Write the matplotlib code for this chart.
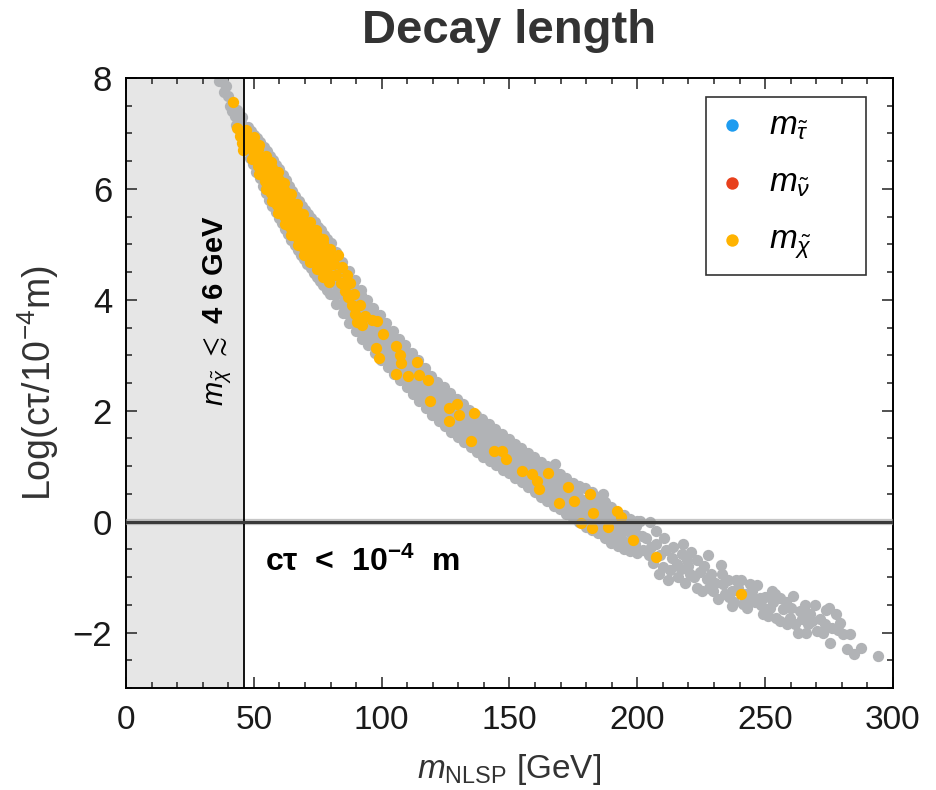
import numpy as np
import matplotlib.pyplot as plt
from matplotlib.ticker import MultipleLocator

plt.rcParams['font.family'] = ['Liberation Sans', 'DejaVu Sans']
plt.rcParams['mathtext.fontset'] = 'custom'
plt.rcParams['mathtext.rm'] = 'Liberation Sans'
plt.rcParams['mathtext.it'] = 'Liberation Sans:italic'
plt.rcParams['mathtext.bf'] = 'Liberation Sans:bold'

# (m_NLSP [GeV], Log(c tau / 1e-4 m))
gray_excluded = [(36.5, 7.95), (38.0, 7.92), (39.0, 7.85), (38.5, 7.75), (40.0, 7.68), (40.5, 7.5),
                 (41.5, 7.4), (42.5, 7.32), (43.5, 7.42), (44.0, 7.25), (45.0, 7.18), (45.5, 7.3),
                 (44.5, 7.05), (43.0, 7.15)]

# rims of the dense region (mostly hidden by the orange points)
gray_rim = [(47.2, 6.71), (47.6, 7.11), (49.8, 6.44), (50.1, 6.98), (52.3, 6.19), (52.6, 6.84),
            (54.7, 5.92), (55.1, 6.69), (57.2, 5.7), (57.5, 6.52), (59.7, 5.48), (60.0, 6.35),
            (62.2, 5.28), (62.5, 6.16), (64.7, 5.08), (65.0, 5.97), (67.2, 4.9), (67.5, 5.79),
            (69.7, 4.73), (70.0, 5.62), (72.2, 4.57), (72.5, 5.47), (74.7, 4.42), (75.0, 5.32),
            (77.2, 4.26), (77.5, 5.17), (79.7, 4.1), (80.0, 5.02),
            (48.5, 6.55), (51.0, 6.3), (53.5, 6.05), (56.0, 5.8), (58.5, 5.58), (61.0, 5.38),
            (63.5, 5.18), (66.0, 4.99), (68.5, 4.81), (71.0, 4.65), (73.5, 4.49), (76.0, 4.34),
            (78.5, 4.18), (48.8, 7.04), (51.3, 6.91), (53.8, 6.76), (56.3, 6.6), (58.8, 6.43),
            (61.3, 6.25), (63.8, 6.06), (66.3, 5.88), (68.8, 5.7), (71.3, 5.55), (73.8, 5.4),
            (76.3, 5.25), (78.8, 5.1)]

gray_band = [
    (82.3, 3.93), (81.8, 4.09), (82.6, 4.25), (82.0, 4.41), (82.4, 4.57), (81.7, 4.72), (82.2, 4.86),
    (84.8, 3.76), (84.2, 3.92), (84.9, 4.08), (84.4, 4.24), (84.7, 4.4), (84.1, 4.55), (84.6, 4.68),
    (87.2, 3.59), (86.7, 3.75), (87.4, 3.91), (86.9, 4.07), (87.3, 4.23), (86.8, 4.38), (87.1, 4.52),
    (89.8, 3.43), (89.2, 3.59), (89.9, 3.75), (89.4, 3.91), (89.7, 4.06), (89.1, 4.21), (89.6, 4.35),
    (92.3, 3.3), (91.7, 3.46), (92.4, 3.62), (91.9, 3.78), (92.2, 3.94), (91.8, 4.08), (92.1, 4.18),
    (94.8, 3.18), (94.2, 3.34), (94.9, 3.5), (94.4, 3.66), (94.7, 3.82), (94.3, 4.0),
    (97.3, 3.04), (96.7, 3.2), (97.4, 3.36), (96.9, 3.52), (97.2, 3.68), (96.8, 3.86),
    (99.8, 2.91), (99.2, 3.07), (99.9, 3.23), (99.4, 3.39), (99.7, 3.55), (99.3, 3.72),
    (102.3, 2.79), (101.7, 2.95), (102.4, 3.11), (101.9, 3.27), (102.2, 3.43), (101.8, 3.58),
    (104.8, 2.67), (104.2, 2.83), (104.9, 2.99), (104.4, 3.15), (104.7, 3.3), (104.3, 3.43),
    (107.3, 2.55), (106.7, 2.71), (107.4, 2.87), (106.9, 3.03), (107.2, 3.18), (106.8, 3.3),
    (109.8, 2.43), (109.2, 2.59), (109.9, 2.75), (109.4, 2.91), (109.7, 3.06), (109.3, 3.18),
    (112.3, 2.3), (111.7, 2.46), (112.4, 2.62), (111.9, 2.78), (112.2, 2.93), (111.8, 3.04),
    (114.8, 2.18), (114.2, 2.34), (114.9, 2.5), (114.4, 2.66), (114.7, 2.81), (114.3, 2.91),
    (117.3, 2.05), (116.7, 2.21), (117.4, 2.37), (116.9, 2.53), (117.2, 2.67), (116.8, 2.77),
    (119.8, 1.93), (119.2, 2.09), (119.9, 2.25), (119.4, 2.41), (119.7, 2.55), (119.3, 2.63),
    (122.3, 1.82), (121.7, 1.98), (122.4, 2.14), (121.9, 2.3), (122.2, 2.44), (121.8, 2.52),
    (124.8, 1.72), (124.2, 1.88), (124.9, 2.04), (124.4, 2.2), (124.7, 2.34), (124.3, 2.42),
    (127.3, 1.62), (126.7, 1.78), (127.4, 1.94), (126.9, 2.1), (127.2, 2.24), (126.8, 2.32),
    (129.8, 1.52), (129.2, 1.68), (129.9, 1.84), (129.4, 2.0), (129.7, 2.14), (129.3, 2.22),
    (132.3, 1.43), (131.7, 1.59), (132.4, 1.75), (131.9, 1.91), (132.2, 2.05), (131.8, 2.12),
    (134.8, 1.34), (134.2, 1.5), (134.9, 1.66), (134.4, 1.82), (134.7, 1.95), (134.3, 2.02),
    (137.3, 1.25), (136.7, 1.41), (137.4, 1.57), (136.9, 1.73), (137.2, 1.86), (136.8, 1.93),
    (139.8, 1.17), (139.2, 1.33), (139.9, 1.49), (139.4, 1.65), (139.7, 1.78), (139.3, 1.85),
    (142.3, 1.09), (141.7, 1.25), (142.4, 1.41), (141.9, 1.57), (142.2, 1.7), (141.8, 1.76),
    (144.8, 1.02), (144.2, 1.18), (144.9, 1.34), (144.4, 1.5), (144.7, 1.62), (144.3, 1.67),
    (147.3, 0.94), (146.7, 1.1), (147.4, 1.26), (146.9, 1.42), (147.2, 1.58),
    (149.8, 0.87), (149.2, 1.03), (149.9, 1.19), (149.4, 1.35), (149.7, 1.49),
    (152.3, 0.79), (151.7, 0.95), (152.4, 1.11), (151.9, 1.27), (152.2, 1.4),
    (154.8, 0.72), (154.2, 0.88), (154.9, 1.04), (154.4, 1.2), (154.7, 1.32),
    (157.3, 0.63), (156.7, 0.79), (157.4, 0.95), (156.9, 1.11), (157.2, 1.23),
    (159.8, 0.54), (159.2, 0.7), (159.9, 0.86), (159.4, 1.02), (159.7, 1.16),
    (162.3, 0.45), (161.7, 0.61), (162.4, 0.77), (161.9, 0.93), (162.2, 1.08),
    (164.8, 0.37), (164.2, 0.53), (164.9, 0.69), (164.4, 0.85), (164.7, 1.0),
    (167.3, 0.29), (166.7, 0.45), (167.4, 0.61), (166.9, 0.77), (167.2, 0.93), (167.8, 1.04),
    (169.8, 0.22), (169.2, 0.38), (169.9, 0.54), (169.4, 0.7), (169.7, 0.85),
    (172.3, 0.14), (171.7, 0.3), (172.4, 0.46), (171.9, 0.62), (172.2, 0.78),
    (174.8, 0.06), (174.2, 0.22), (174.9, 0.38), (174.4, 0.54), (174.7, 0.7),
    (177.3, -0.01), (176.7, 0.15), (177.4, 0.31), (176.9, 0.47), (177.2, 0.65),
    (179.8, -0.09), (179.2, 0.07), (179.9, 0.23), (179.4, 0.39), (179.7, 0.6),
    (182.3, -0.15), (181.7, 0.01), (182.4, 0.17), (181.9, 0.33), (182.2, 0.53),
    (184.8, -0.21), (184.2, -0.05), (184.9, 0.11), (184.4, 0.27), (184.7, 0.45), (186.7, 0.5),
    (187.3, -0.29), (186.7, -0.13), (187.4, 0.03), (186.9, 0.19), (187.2, 0.36),
    (189.8, -0.38), (189.2, -0.22), (189.9, -0.06), (189.4, 0.1), (189.7, 0.26),
    (192.3, -0.44), (191.7, -0.28), (192.4, -0.12), (191.9, 0.04), (192.2, 0.18),
    (194.8, -0.49), (194.2, -0.33), (194.9, -0.17), (194.4, -0.01), (194.7, 0.12),
    (197.3, -0.53), (196.7, -0.37), (197.4, -0.21), (196.9, -0.05), (197.2, 0.05),
    (199.8, -0.56), (199.2, -0.4), (199.9, -0.24), (199.4, -0.08), (199.7, 0.01)]

gray_tail = [
    (202.3, -0.52), (201.0, 0.02), (205.0, -0.01), (207.5, -0.16), (207.5, -0.4), (211.4, -0.52),
    (210.1, -0.82), (212.7, -0.88), (215.4, -0.76), (217.3, -0.58), (218.0, -0.4), (220.6, -0.94),
    (223.2, -0.7), (223.2, -1.19), (227.1, -1.03), (229.7, -1.25), (232.7, -0.78), (233.6, -1.12),
    (236.9, -1.52), (238.8, -1.06), (241.4, -1.49), (244.0, -1.12), (247.9, -1.37), (249.2, -1.67),
    (251.9, -1.55), (254.4, -1.73), (255.8, -1.37), (257.0, -1.58), (259.7, -1.73), (261.0, -1.34),
    (262.9, -2.0), (263.6, -1.61), (266.8, -1.85), (267.5, -1.67), (270.1, -1.97), (272.7, -2.0),
    (275.0, -1.55), (275.3, -2.18), (276.0, -1.91), (277.9, -1.67), (279.2, -1.82), (280.5, -2.02),
    (282.2, -2.29), (283.1, -2.02), (284.7, -2.38), (287.7, -2.27), (294.2, -2.42),
    (203.5, -0.3), (204.5, -0.6), (206.0, -0.75), (208.5, -0.95), (209.0, -0.6), (210.5, -0.3),
    (212.0, -1.05), (213.5, -0.65), (214.0, -0.45), (216.0, -1.0), (217.0, -0.85), (218.5, -1.1),
    (219.5, -0.7), (221.0, -0.55), (222.0, -1.0), (224.5, -0.9), (225.5, -1.25), (226.0, -0.8),
    (228.0, -1.2), (229.0, -0.95), (230.5, -1.1), (231.5, -1.4), (233.0, -0.95), (234.5, -1.3),
    (235.5, -1.05), (237.0, -1.25), (238.0, -1.45), (239.5, -1.2), (240.5, -1.05), (242.0, -1.3),
    (243.0, -1.55), (245.0, -1.25), (246.0, -1.45), (247.0, -1.15), (248.5, -1.5), (250.0, -1.35),
    (251.0, -1.7), (253.0, -1.45), (254.0, -1.3), (256.0, -1.8), (258.0, -1.45), (260.0, -1.55),
    (261.5, -1.85), (264.5, -1.75), (265.5, -1.5), (268.5, -1.8), (269.5, -1.5), (271.5, -1.75),
    (273.5, -1.85), (274.0, -1.6), (202.0, -0.25), (205.5, -0.45), (220.0, -0.8), (227.5, -0.6),
    (236.0, -1.35), (244.5, -1.4), (252.5, -1.25), (258.5, -1.85), (266.0, -2.0), (278.5, -1.95)]

orange_pts = [
    (41.8, 7.56), (43.5, 7.09), (44.6, 6.95), (45.2, 6.82), (45.6, 6.7), (44.9, 7.05),
    (47.0, 6.8), (47.4, 6.95), (46.9, 7.06),
    (49.3, 6.53), (49.8, 6.68), (49.4, 6.83), (49.9, 6.93),
    (52.1, 6.27), (51.7, 6.42), (52.3, 6.57), (51.8, 6.72), (52.2, 6.8),
    (54.6, 6.0), (54.2, 6.15), (54.8, 6.3), (54.3, 6.45), (54.7, 6.6),
    (57.1, 5.78), (56.7, 5.93), (57.3, 6.08), (56.8, 6.23), (57.2, 6.38), (56.9, 6.48),
    (59.6, 5.56), (59.2, 5.71), (59.8, 5.86), (59.3, 6.01), (59.7, 6.16), (59.4, 6.3),
    (62.1, 5.36), (61.7, 5.51), (62.3, 5.66), (61.8, 5.81), (62.2, 5.96), (61.9, 6.1),
    (64.6, 5.16), (64.2, 5.31), (64.8, 5.46), (64.3, 5.61), (64.7, 5.76), (64.4, 5.9),
    (67.1, 4.98), (66.7, 5.13), (67.3, 5.28), (66.8, 5.43), (67.2, 5.58), (66.9, 5.72),
    (69.6, 4.81), (69.2, 4.96), (69.8, 5.11), (69.3, 5.26), (69.7, 5.41), (69.4, 5.55),
    (72.1, 4.68), (71.7, 4.83), (72.3, 4.98), (71.8, 5.13), (72.2, 5.28), (71.9, 5.4),
    (74.6, 4.55), (74.2, 4.7), (74.8, 4.85), (74.3, 5.0), (74.7, 5.15), (74.4, 5.25),
    (77.1, 4.42), (76.7, 4.57), (77.3, 4.72), (76.8, 4.87), (77.2, 5.02), (76.9, 5.1),
    (79.6, 4.32), (79.2, 4.47), (79.8, 4.62), (79.3, 4.77), (79.7, 4.92),
    (81.5, 4.65), (82.3, 4.45), (83.0, 4.8), (84.0, 4.3), (84.5, 4.6), (85.5, 4.15),
    (86.3, 4.45), (87.0, 4.05), (87.8, 4.3), (88.5, 3.9), (89.5, 3.75), (89.2, 4.1),
    (90.5, 3.6), (91.5, 3.9), (92.2, 3.55), (93.3, 3.7), (96.1, 3.64), (98.3, 3.62),
    (100.4, 3.39), (97.8, 3.13), (99.1, 2.95),
    (105.5, 3.16), (107.2, 3.0), (107.5, 2.86), (113.7, 2.87), (105.5, 2.67), (110.4, 2.62),
    (114.6, 2.64), (118.1, 2.56), (118.9, 2.18), (126.3, 2.05), (129.3, 2.12), (130.2, 1.92),
    (136.2, 1.95), (126.4, 1.81), (134.9, 1.46), (144.0, 1.27), (146.9, 1.28), (148.5, 1.13),
    (155.0, 0.92), (158.9, 0.85), (160.9, 0.74), (165.2, 0.88), (161.6, 0.58), (173.0, 0.63),
    (169.5, 0.33), (175.2, 0.38), (181.5, 0.49), (182.8, 0.16), (177.8, -0.03), (182.1, -0.11),
    (188.6, -0.09), (191.9, 0.2), (193.5, 0.09), (198.4, -0.33), (207.5, -0.63), (240.5, -1.31)]

# stau and sneutrino NLSP points (none visible in this panel)
stau_pts = []
snu_pts = []

legend_labels = [r'$m_{\tilde{\tau}}$', r'$m_{\tilde{\nu}}$', r'$m_{\tilde{\chi}}$']
x_ticks = [0, 50, 100, 150, 200, 250, 300]
y_ticks = [-2, 0, 2, 4, 6, 8]
lep_bound = 46

gray = np.array(gray_excluded + gray_rim + gray_band + gray_tail)
orange = np.array(orange_pts)

fig = plt.figure(figsize=(9.36, 7.9), dpi=100)
ax = fig.add_axes([0.1346, 0.1291, 0.8194, 0.7722])

ax.axvspan(0, lep_bound, color='#e6e6e6', lw=0, zorder=0)
ax.scatter(gray[:, 0], gray[:, 1], s=66, c='#b1b3b6', linewidths=0, zorder=2)
ax.scatter([p[0] for p in stau_pts], [p[1] for p in stau_pts], s=66, c='#1e9cf0', lw=0,
           label=legend_labels[0])
ax.scatter([p[0] for p in snu_pts], [p[1] for p in snu_pts], s=66, c='#e8401c', lw=0,
           label=legend_labels[1])
ax.scatter(orange[:, 0], orange[:, 1], s=66, c='#ffb300', linewidths=0, zorder=3,
           label=legend_labels[2])

ax.axvline(lep_bound, color='black', lw=1.3, zorder=5)
ax.axhline(0, color='#a0a0a0', lw=4.5, alpha=0.6, zorder=4)
ax.axhline(0, color='#3a3a3a', lw=2.2, zorder=5)

ax.set_xlim(0, 300)
ax.set_ylim(-3, 8)
ax.set_xticks(x_ticks)
ax.set_yticks(y_ticks)
ax.xaxis.set_minor_locator(MultipleLocator(10))
ax.yaxis.set_minor_locator(MultipleLocator(0.5))
ax.tick_params(which='both', direction='in', top=True, right=True, width=1.1, color='#222')
ax.tick_params(which='major', length=8)
ax.tick_params(which='minor', length=4)
ax.tick_params(axis='x', labelsize=24, pad=12, labelcolor='#1a1a1a')
ax.tick_params(axis='y', labelsize=25, pad=10, labelcolor='#1a1a1a')
for sp in ax.spines.values():
    sp.set_linewidth(1.4)

ax.set_xlabel(r'$m_{\rm NLSP}$ [GeV]', fontsize=24, color='#333', labelpad=12)
ax.set_ylabel(r'Log(c$\mathrm{\tau}$/10$^{-4}$m)', fontsize=27, color='#333', labelpad=8)
ax.set_title('Decay length', fontsize=34, fontweight='bold', color='#333', pad=25)

ax.text(36, 3.8, r'$m_{\tilde{\chi}}$ $\lesssim$ 4 6 GeV', rotation=90, fontsize=21,
        fontweight='bold', ha='center', va='center', zorder=6)
ax.text(54.5, -0.74, r'c$\mathbf{\tau}$  <  10$^{\mathbf{-4}}$  m', fontsize=23,
        fontweight='bold', ha='left', va='center', zorder=6)

leg = ax.legend(loc='upper left', bbox_to_anchor=(0.756, 0.682, 0.209, 0.287), mode='expand',
                borderaxespad=0, fontsize=24, frameon=True, fancybox=False, edgecolor='black',
                labelspacing=0.78, handletextpad=0.7, borderpad=0.4, handlelength=0.8,
                scatterpoints=1, markerscale=1.1)
leg.get_frame().set_linewidth(1.2)

fig.savefig('out.png', dpi=100)
